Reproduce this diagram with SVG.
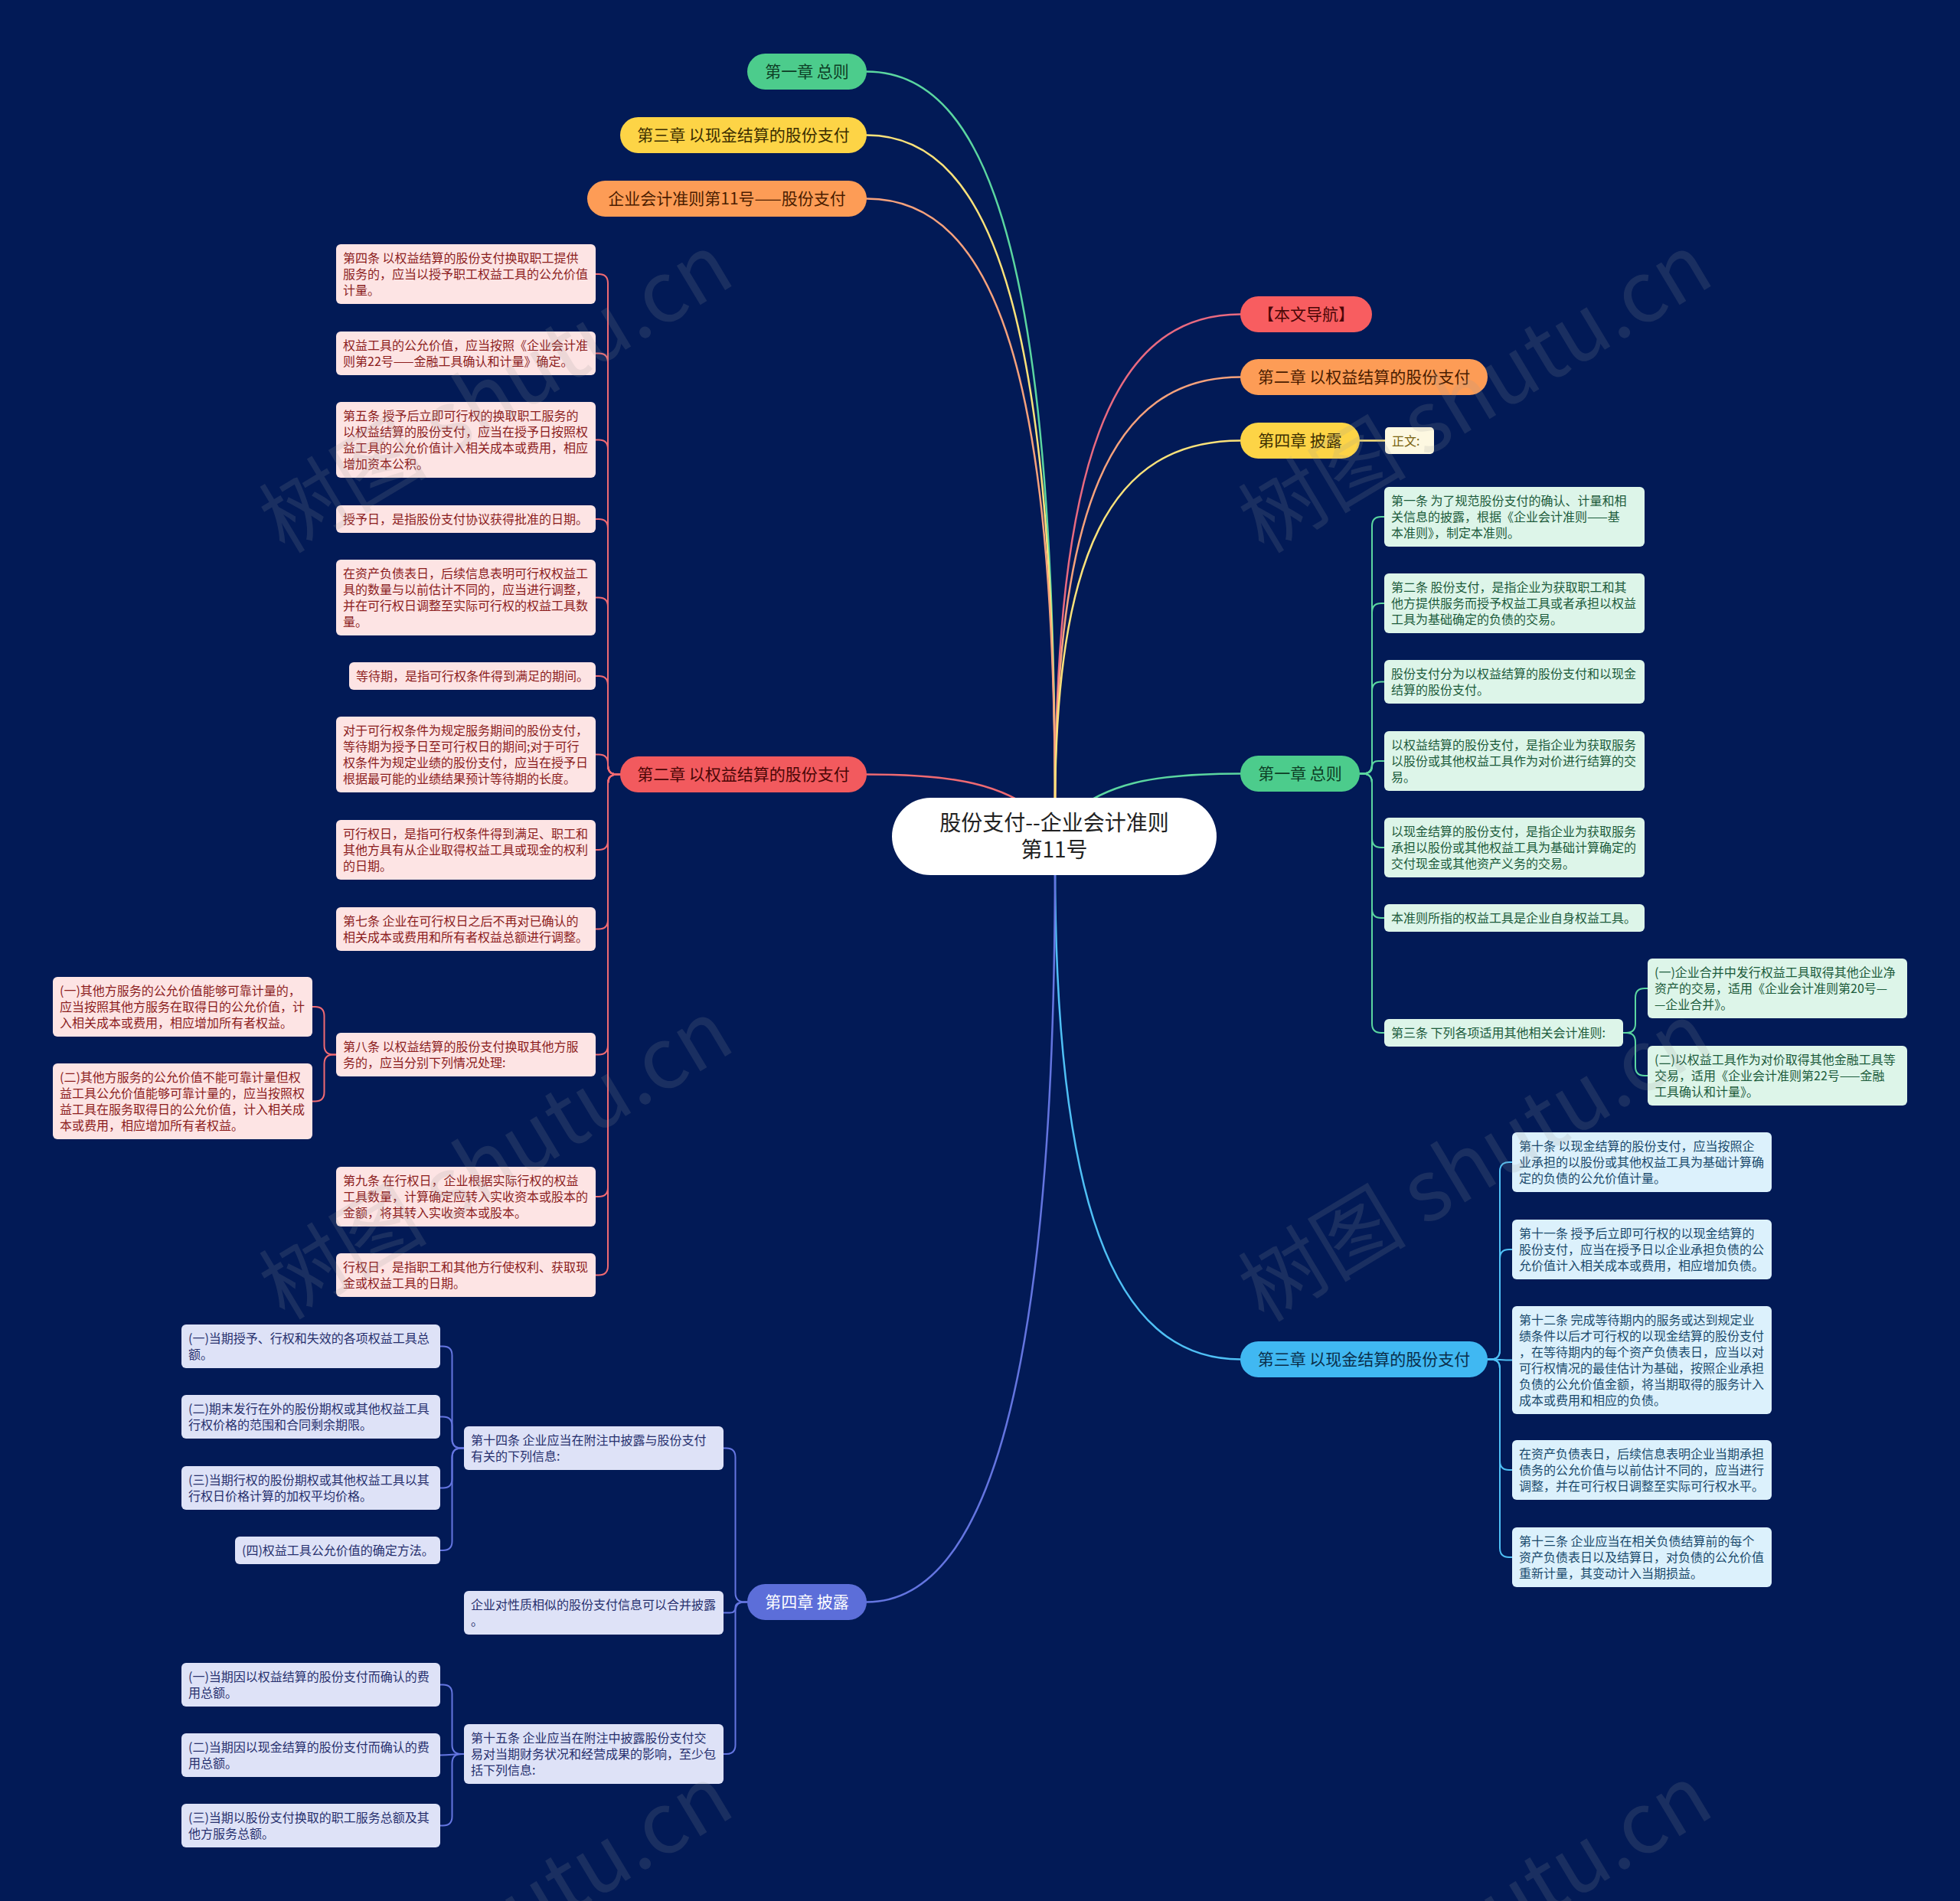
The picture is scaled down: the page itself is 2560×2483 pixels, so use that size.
<svg xmlns="http://www.w3.org/2000/svg" width="2560" height="2483" viewBox="0 0 2560 2483">
<style>
text{font-family:"Noto Sans CJK SC","Noto Sans",sans-serif}
.pill text{font-size:21px;text-anchor:middle}
.leaf text{font-size:16px}
.c{fill:none;stroke-linecap:round}
.m{stroke-width:2.5}
.s{stroke-width:2}
.rl rect{fill:#fde4e4}.rl text{fill:#8c1d1d}
.gl rect{fill:#ddf5e9}.gl text{fill:#1c5b3b}
.bl rect{fill:#dcf1fc}.bl text{fill:#1a4a6c}
.vl rect{fill:#dee2f7}.vl text{fill:#27306e}
.wm{font-size:110px;fill:#9a9a9a;opacity:0.16;text-anchor:middle}
</style>
<rect width="2560" height="2483" fill="#021a56"/>

<g id="connectors">
<path class="c m" stroke="#5bd6a0" d="M1132,93.5 C1304,93.5 1378,383.5 1378,1060"/>
<path class="c m" stroke="#fbe27a" d="M1132,176.5 C1304,176.5 1378,441.5 1378,1060"/>
<path class="c m" stroke="#f7a27c" d="M1132,259.5 C1304,259.5 1378,499.7 1378,1060"/>
<path class="c m" stroke="#e96a80" d="M1620,410.5 C1450.6,410.5 1378,605 1378,1060"/>
<path class="c m" stroke="#f7a27c" d="M1620,492.5 C1450.6,492.5 1378,662.8 1378,1060"/>
<path class="c m" stroke="#fbe27a" d="M1620,575.5 C1450.6,575.5 1378,720.9 1378,1060"/>
<path class="c m" stroke="#fbe27a" d="M1776,575.5 H1809"/>
<path class="c m" stroke="#f06a72" d="M1132,1011.5 C1250,1011.5 1310,1025 1360,1065"/>
<path class="c m" stroke="#5bd6a0" d="M1620,1010.5 C1500,1010.5 1445,1025 1395,1065"/>
<path class="c m" stroke="#4fc0f5" d="M1378,1125 C1378,1560 1450,1775.5 1620,1775.5"/>
<path class="c m" stroke="#6475e0" d="M1378,1125 C1378,1800 1290,2092.5 1132,2092.5"/>

<g stroke="#f06a72">
<path class="c s" d="M810,1011.5 H806 Q794,1011.5 794,999.5 V370 Q794,358 782,358 H778"/>
<path class="c s" d="M810,1011.5 H806 Q794,1011.5 794,999.5 V473.5 Q794,461.5 782,461.5 H778"/>
<path class="c s" d="M810,1011.5 H806 Q794,1011.5 794,999.5 V586.5 Q794,574.5 782,574.5 H778"/>
<path class="c s" d="M810,1011.5 H806 Q794,1011.5 794,999.5 V690 Q794,678 782,678 H778"/>
<path class="c s" d="M810,1011.5 H806 Q794,1011.5 794,999.5 V792.5 Q794,780.5 782,780.5 H778"/>
<path class="c s" d="M810,1011.5 H806 Q794,1011.5 794,999.5 V895 Q794,883 782,883 H778"/>
<path class="c s" d="M810,1011.5 H806 Q794,1011.5 794,999.5 V997.5 Q794,985.5 782,985.5 H778"/>
<path class="c s" d="M810,1011.5 H806 Q794,1011.5 794,1023.5 V1098 Q794,1110 782,1110 H778"/>
<path class="c s" d="M810,1011.5 H806 Q794,1011.5 794,1023.5 V1201.5 Q794,1213.5 782,1213.5 H778"/>
<path class="c s" d="M810,1011.5 H806 Q794,1011.5 794,1023.5 V1365.5 Q794,1377.5 782,1377.5 H778"/>
<path class="c s" d="M810,1011.5 H806 Q794,1011.5 794,1023.5 V1551 Q794,1563 782,1563 H778"/>
<path class="c s" d="M810,1011.5 H806 Q794,1011.5 794,1023.5 V1653.5 Q794,1665.5 782,1665.5 H778"/>
<path class="c s" d="M439,1377.5 H435.5 Q423.5,1377.5 423.5,1365.5 V1327 Q423.5,1315 411.5,1315 H408"/>
<path class="c s" d="M439,1377.5 H435.5 Q423.5,1377.5 423.5,1389.5 V1426.5 Q423.5,1438.5 411.5,1438.5 H408"/>
</g>

<g stroke="#5bd6a0">
<path class="c s" d="M1776,1010.5 H1780 Q1792,1010.5 1792,998.5 V687 Q1792,675 1804,675 H1808"/>
<path class="c s" d="M1776,1010.5 H1780 Q1792,1010.5 1792,998.5 V800 Q1792,788 1804,788 H1808"/>
<path class="c s" d="M1776,1010.5 H1780 Q1792,1010.5 1792,998.5 V902.5 Q1792,890.5 1804,890.5 H1808"/>
<path class="c s" d="M1776,1010.5 H1780 Q1792,1010.5 1792,1002 Q1792,994 1800,994 H1808"/>
<path class="c s" d="M1776,1010.5 H1780 Q1792,1010.5 1792,1022.5 V1095 Q1792,1107 1804,1107 H1808"/>
<path class="c s" d="M1776,1010.5 H1780 Q1792,1010.5 1792,1022.5 V1187 Q1792,1199 1804,1199 H1808"/>
<path class="c s" d="M1776,1010.5 H1780 Q1792,1010.5 1792,1022.5 V1337 Q1792,1349 1804,1349 H1808"/>
<path class="c s" d="M2120,1349 H2124 Q2136,1349 2136,1337 V1303 Q2136,1291 2148,1291 H2152"/>
<path class="c s" d="M2120,1349 H2124 Q2136,1349 2136,1361 V1393 Q2136,1405 2148,1405 H2152"/>
</g>

<g stroke="#4fc0f5">
<path class="c s" d="M1943,1775.5 H1947 Q1959,1775.5 1959,1763.5 V1530 Q1959,1518 1971,1518 H1975"/>
<path class="c s" d="M1943,1775.5 H1947 Q1959,1775.5 1959,1763.5 V1644 Q1959,1632 1971,1632 H1975"/>
<path class="c s" d="M1943,1775.5 C1959,1775.5 1959,1776.5 1975,1776.5"/>
<path class="c s" d="M1943,1775.5 H1947 Q1959,1775.5 1959,1787.5 V1908 Q1959,1920 1971,1920 H1975"/>
<path class="c s" d="M1943,1775.5 H1947 Q1959,1775.5 1959,1787.5 V2022 Q1959,2034 1971,2034 H1975"/>
</g>

<g stroke="#6475e0">
<path class="c s" d="M976,2092.5 H972.5 Q960.5,2092.5 960.5,2080.5 V1903.5 Q960.5,1891.5 948.5,1891.5 H945"/>
<path class="c s" d="M976,2092.5 H972.5 Q960.5,2092.5 960.5,2099.5 Q960.5,2106.5 953.5,2106.5 H945"/>
<path class="c s" d="M976,2092.5 H972.5 Q960.5,2092.5 960.5,2104.5 V2279 Q960.5,2291 948.5,2291 H945"/>
<path class="c s" d="M606,1891.5 H602.5 Q590.5,1891.5 590.5,1879.5 V1770.5 Q590.5,1758.5 578.5,1758.5 H575"/>
<path class="c s" d="M606,1891.5 H602.5 Q590.5,1891.5 590.5,1879.5 V1862.5 Q590.5,1850.5 578.5,1850.5 H575"/>
<path class="c s" d="M606,1891.5 H602.5 Q590.5,1891.5 590.5,1903.5 V1931.5 Q590.5,1943.5 578.5,1943.5 H575"/>
<path class="c s" d="M606,1891.5 H602.5 Q590.5,1891.5 590.5,1903.5 V2013 Q590.5,2025 578.5,2025 H575"/>
<path class="c s" d="M606,2291 H602.5 Q590.5,2291 590.5,2279 V2212.5 Q590.5,2200.5 578.5,2200.5 H575"/>
<path class="c s" d="M606,2291 C590.5,2291 590.5,2292.5 575,2292.5"/>
<path class="c s" d="M606,2291 H602.5 Q590.5,2291 590.5,2303 V2372.5 Q590.5,2384.5 578.5,2384.5 H575"/>
</g>
</g>

<g id="root">
<rect x="1165" y="1042" width="424" height="101" rx="50.5" fill="#ffffff"/>
<text x="1377" y="1085" font-size="28" text-anchor="middle" fill="#222">股份支付--企业会计准则</text>
<text x="1377" y="1120" font-size="28" text-anchor="middle" fill="#222">第11号</text>
</g>

<g id="n-l1" class="pill"><rect x="976" y="70" width="156" height="47" rx="23.5" fill="#4ccc8c"/><text x="1054" y="101" fill="#0d3d25">第一章 总则</text></g>
<g id="n-l2" class="pill"><rect x="810" y="153" width="322" height="47" rx="23.5" fill="#fdd446"/><text x="971" y="184" fill="#3b2d00">第三章 以现金结算的股份支付</text></g>
<g id="n-l3" class="pill"><rect x="767" y="236" width="365" height="47" rx="23.5" fill="#fd9c56"/><text x="949.5" y="267" fill="#4a1c00">企业会计准则第11号——股份支付</text></g>
<g id="n-r1" class="pill"><rect x="1620" y="387" width="172" height="47" rx="23.5" fill="#f85d60"/><text x="1706" y="418" fill="#4a0606">【本文导航】</text></g>
<g id="n-r2" class="pill"><rect x="1620" y="469" width="323" height="47" rx="23.5" fill="#fd9c56"/><text x="1781.5" y="500" fill="#4a1c00">第二章 以权益结算的股份支付</text></g>
<g id="n-r3" class="pill"><rect x="1620" y="552" width="156" height="47" rx="23.5" fill="#fdd446"/><text x="1698" y="583" fill="#3b2d00">第四章 披露</text></g>
<g id="n-zw"><rect x="1809" y="558" width="64" height="35" rx="5" fill="#fdf8e1"/><text x="1818" y="582" font-size="16" fill="#7a6412">正文:</text></g>
<g id="n-l4" class="pill"><rect x="810" y="988" width="322" height="47" rx="23.5" fill="#f25a5e"/><text x="971" y="1019" fill="#4a0606">第二章 以权益结算的股份支付</text></g>
<g id="n-r4" class="pill"><rect x="1620" y="987" width="156" height="47" rx="23.5" fill="#4ccc8c"/><text x="1698" y="1018" fill="#0d3d25">第一章 总则</text></g>
<g id="n-r5" class="pill"><rect x="1620" y="1752" width="323" height="47" rx="23.5" fill="#40b8f2"/><text x="1781.5" y="1783" fill="#0a2e4a">第三章 以现金结算的股份支付</text></g>
<g id="n-l5" class="pill"><rect x="976" y="2069" width="156" height="47" rx="23.5" fill="#5c6ed9"/><text x="1054" y="2100" fill="#ffffff">第四章 披露</text></g>

<g id="red-leaves">
<g id="r1" class="leaf rl"><rect x="439" y="319" width="339" height="78" rx="6"/><text x="448" y="343">第四条 以权益结算的股份支付换取职工提供<tspan x="448" dy="21">服务的，应当以授予职工权益工具的公允价值</tspan><tspan x="448" dy="21">计量。</tspan></text></g>
<g id="r2" class="leaf rl"><rect x="439" y="433" width="339" height="57" rx="6"/><text x="448" y="457">权益工具的公允价值，应当按照《企业会计准<tspan x="448" dy="21">则第22号——金融工具确认和计量》确定。</tspan></text></g>
<g id="r3" class="leaf rl"><rect x="439" y="525" width="339" height="99" rx="6"/><text x="448" y="549">第五条 授予后立即可行权的换取职工服务的<tspan x="448" dy="21">以权益结算的股份支付，应当在授予日按照权</tspan><tspan x="448" dy="21">益工具的公允价值计入相关成本或费用，相应</tspan><tspan x="448" dy="21">增加资本公积。</tspan></text></g>
<g id="r4" class="leaf rl"><rect x="439" y="660" width="339" height="36" rx="6"/><text x="448" y="684">授予日，是指股份支付协议获得批准的日期。</text></g>
<g id="r5" class="leaf rl"><rect x="439" y="731" width="339" height="99" rx="6"/><text x="448" y="755">在资产负债表日，后续信息表明可行权权益工<tspan x="448" dy="21">具的数量与以前估计不同的，应当进行调整，</tspan><tspan x="448" dy="21">并在可行权日调整至实际可行权的权益工具数</tspan><tspan x="448" dy="21">量。</tspan></text></g>
<g id="r6" class="leaf rl"><rect x="456" y="865" width="322" height="36" rx="6"/><text x="465" y="889">等待期，是指可行权条件得到满足的期间。</text></g>
<g id="r7" class="leaf rl"><rect x="439" y="936" width="339" height="99" rx="6"/><text x="448" y="960">对于可行权条件为规定服务期间的股份支付，<tspan x="448" dy="21">等待期为授予日至可行权日的期间;对于可行</tspan><tspan x="448" dy="21">权条件为规定业绩的股份支付，应当在授予日</tspan><tspan x="448" dy="21">根据最可能的业绩结果预计等待期的长度。</tspan></text></g>
<g id="r8" class="leaf rl"><rect x="439" y="1071" width="339" height="78" rx="6"/><text x="448" y="1095">可行权日，是指可行权条件得到满足、职工和<tspan x="448" dy="21">其他方具有从企业取得权益工具或现金的权利</tspan><tspan x="448" dy="21">的日期。</tspan></text></g>
<g id="r9" class="leaf rl"><rect x="439" y="1185" width="339" height="57" rx="6"/><text x="448" y="1209">第七条 企业在可行权日之后不再对已确认的<tspan x="448" dy="21">相关成本或费用和所有者权益总额进行调整。</tspan></text></g>
<g id="r10" class="leaf rl"><rect x="439" y="1349" width="339" height="57" rx="6"/><text x="448" y="1373">第八条 以权益结算的股份支付换取其他方服<tspan x="448" dy="21">务的，应当分别下列情况处理:</tspan></text></g>
<g id="r10a" class="leaf rl"><rect x="69" y="1276" width="339" height="78" rx="6"/><text x="78" y="1300">(一)其他方服务的公允价值能够可靠计量的，<tspan x="78" dy="21">应当按照其他方服务在取得日的公允价值，计</tspan><tspan x="78" dy="21">入相关成本或费用，相应增加所有者权益。</tspan></text></g>
<g id="r10b" class="leaf rl"><rect x="69" y="1389" width="339" height="99" rx="6"/><text x="78" y="1413">(二)其他方服务的公允价值不能可靠计量但权<tspan x="78" dy="21">益工具公允价值能够可靠计量的，应当按照权</tspan><tspan x="78" dy="21">益工具在服务取得日的公允价值，计入相关成</tspan><tspan x="78" dy="21">本或费用，相应增加所有者权益。</tspan></text></g>
<g id="r11" class="leaf rl"><rect x="439" y="1524" width="339" height="78" rx="6"/><text x="448" y="1548">第九条 在行权日，企业根据实际行权的权益<tspan x="448" dy="21">工具数量，计算确定应转入实收资本或股本的</tspan><tspan x="448" dy="21">金额，将其转入实收资本或股本。</tspan></text></g>
<g id="r12" class="leaf rl"><rect x="439" y="1637" width="339" height="57" rx="6"/><text x="448" y="1661">行权日，是指职工和其他方行使权利、获取现<tspan x="448" dy="21">金或权益工具的日期。</tspan></text></g>
</g>

<g id="green-leaves">
<g id="g1" class="leaf gl"><rect x="1808" y="636" width="340" height="78" rx="6"/><text x="1817" y="660">第一条 为了规范股份支付的确认、计量和相<tspan x="1817" dy="21">关信息的披露，根据《企业会计准则——基</tspan><tspan x="1817" dy="21">本准则》，制定本准则。</tspan></text></g>
<g id="g2" class="leaf gl"><rect x="1808" y="749" width="340" height="78" rx="6"/><text x="1817" y="773">第二条 股份支付，是指企业为获取职工和其<tspan x="1817" dy="21">他方提供服务而授予权益工具或者承担以权益</tspan><tspan x="1817" dy="21">工具为基础确定的负债的交易。</tspan></text></g>
<g id="g3" class="leaf gl"><rect x="1808" y="862" width="340" height="57" rx="6"/><text x="1817" y="886">股份支付分为以权益结算的股份支付和以现金<tspan x="1817" dy="21">结算的股份支付。</tspan></text></g>
<g id="g4" class="leaf gl"><rect x="1808" y="955" width="340" height="78" rx="6"/><text x="1817" y="979">以权益结算的股份支付，是指企业为获取服务<tspan x="1817" dy="21">以股份或其他权益工具作为对价进行结算的交</tspan><tspan x="1817" dy="21">易。</tspan></text></g>
<g id="g5" class="leaf gl"><rect x="1808" y="1068" width="340" height="78" rx="6"/><text x="1817" y="1092">以现金结算的股份支付，是指企业为获取服务<tspan x="1817" dy="21">承担以股份或其他权益工具为基础计算确定的</tspan><tspan x="1817" dy="21">交付现金或其他资产义务的交易。</tspan></text></g>
<g id="g6" class="leaf gl"><rect x="1808" y="1181" width="340" height="36" rx="6"/><text x="1817" y="1205">本准则所指的权益工具是企业自身权益工具。</text></g>
<g id="g7" class="leaf gl"><rect x="1808" y="1331" width="312" height="36" rx="6"/><text x="1817" y="1355">第三条 下列各项适用其他相关会计准则:</text></g>
<g id="g7a" class="leaf gl"><rect x="2152" y="1252" width="339" height="78" rx="6"/><text x="2161" y="1276">(一)企业合并中发行权益工具取得其他企业净<tspan x="2161" dy="21">资产的交易，适用《企业会计准则第20号—</tspan><tspan x="2161" dy="21">—企业合并》。</tspan></text></g>
<g id="g7b" class="leaf gl"><rect x="2152" y="1366" width="339" height="78" rx="6"/><text x="2161" y="1390">(二)以权益工具作为对价取得其他金融工具等<tspan x="2161" dy="21">交易，适用《企业会计准则第22号——金融</tspan><tspan x="2161" dy="21">工具确认和计量》。</tspan></text></g>
</g>

<g id="blue-leaves">
<g id="b1" class="leaf bl"><rect x="1975" y="1479" width="339" height="78" rx="6"/><text x="1984" y="1503">第十条 以现金结算的股份支付，应当按照企<tspan x="1984" dy="21">业承担的以股份或其他权益工具为基础计算确</tspan><tspan x="1984" dy="21">定的负债的公允价值计量。</tspan></text></g>
<g id="b2" class="leaf bl"><rect x="1975" y="1593" width="339" height="78" rx="6"/><text x="1984" y="1617">第十一条 授予后立即可行权的以现金结算的<tspan x="1984" dy="21">股份支付，应当在授予日以企业承担负债的公</tspan><tspan x="1984" dy="21">允价值计入相关成本或费用，相应增加负债。</tspan></text></g>
<g id="b3" class="leaf bl"><rect x="1975" y="1706" width="339" height="141" rx="6"/><text x="1984" y="1730">第十二条 完成等待期内的服务或达到规定业<tspan x="1984" dy="21">绩条件以后才可行权的以现金结算的股份支付</tspan><tspan x="1984" dy="21">，在等待期内的每个资产负债表日，应当以对</tspan><tspan x="1984" dy="21">可行权情况的最佳估计为基础，按照企业承担</tspan><tspan x="1984" dy="21">负债的公允价值金额，将当期取得的服务计入</tspan><tspan x="1984" dy="21">成本或费用和相应的负债。</tspan></text></g>
<g id="b4" class="leaf bl"><rect x="1975" y="1881" width="339" height="78" rx="6"/><text x="1984" y="1905">在资产负债表日，后续信息表明企业当期承担<tspan x="1984" dy="21">债务的公允价值与以前估计不同的，应当进行</tspan><tspan x="1984" dy="21">调整，并在可行权日调整至实际可行权水平。</tspan></text></g>
<g id="b5" class="leaf bl"><rect x="1975" y="1995" width="339" height="78" rx="6"/><text x="1984" y="2019">第十三条 企业应当在相关负债结算前的每个<tspan x="1984" dy="21">资产负债表日以及结算日，对负债的公允价值</tspan><tspan x="1984" dy="21">重新计量，其变动计入当期损益。</tspan></text></g>
</g>

<g id="violet-leaves">
<g id="v1" class="leaf vl"><rect x="606" y="1863" width="339" height="57" rx="6"/><text x="615" y="1887">第十四条 企业应当在附注中披露与股份支付<tspan x="615" dy="21">有关的下列信息:</tspan></text></g>
<g id="v1a" class="leaf vl"><rect x="237" y="1730" width="338" height="57" rx="6"/><text x="246" y="1754">(一)当期授予、行权和失效的各项权益工具总<tspan x="246" dy="21">额。</tspan></text></g>
<g id="v1b" class="leaf vl"><rect x="237" y="1822" width="338" height="57" rx="6"/><text x="246" y="1846">(二)期末发行在外的股份期权或其他权益工具<tspan x="246" dy="21">行权价格的范围和合同剩余期限。</tspan></text></g>
<g id="v1c" class="leaf vl"><rect x="237" y="1915" width="338" height="57" rx="6"/><text x="246" y="1939">(三)当期行权的股份期权或其他权益工具以其<tspan x="246" dy="21">行权日价格计算的加权平均价格。</tspan></text></g>
<g id="v1d" class="leaf vl"><rect x="307" y="2007" width="268" height="36" rx="6"/><text x="316" y="2031">(四)权益工具公允价值的确定方法。</text></g>
<g id="v2" class="leaf vl"><rect x="606" y="2078" width="339" height="57" rx="6"/><text x="615" y="2102">企业对性质相似的股份支付信息可以合并披露<tspan x="615" dy="21">。</tspan></text></g>
<g id="v3" class="leaf vl"><rect x="606" y="2252" width="339" height="78" rx="6"/><text x="615" y="2276">第十五条 企业应当在附注中披露股份支付交<tspan x="615" dy="21">易对当期财务状况和经营成果的影响，至少包</tspan><tspan x="615" dy="21">括下列信息:</tspan></text></g>
<g id="v3a" class="leaf vl"><rect x="237" y="2172" width="338" height="57" rx="6"/><text x="246" y="2196">(一)当期因以权益结算的股份支付而确认的费<tspan x="246" dy="21">用总额。</tspan></text></g>
<g id="v3b" class="leaf vl"><rect x="237" y="2264" width="338" height="57" rx="6"/><text x="246" y="2288">(二)当期因以现金结算的股份支付而确认的费<tspan x="246" dy="21">用总额。</tspan></text></g>
<g id="v3c" class="leaf vl"><rect x="237" y="2356" width="338" height="57" rx="6"/><text x="246" y="2380">(三)当期以股份支付换取的职工服务总额及其<tspan x="246" dy="21">他方服务总额。</tspan></text></g>
</g>

<g id="watermark">
<text class="wm" transform="translate(648,514) rotate(-31)" y="38">树图 shutu.cn</text>
<text class="wm" transform="translate(1927,514) rotate(-31)" y="38">树图 shutu.cn</text>
<text class="wm" transform="translate(648,1515) rotate(-31)" y="38">树图 shutu.cn</text>
<text class="wm" transform="translate(1927,1518) rotate(-31)" y="38">树图 shutu.cn</text>
<text class="wm" transform="translate(648,2514) rotate(-31)" y="38">树图 shutu.cn</text>
<text class="wm" transform="translate(1927,2514) rotate(-31)" y="38">树图 shutu.cn</text>
</g>
</svg>
